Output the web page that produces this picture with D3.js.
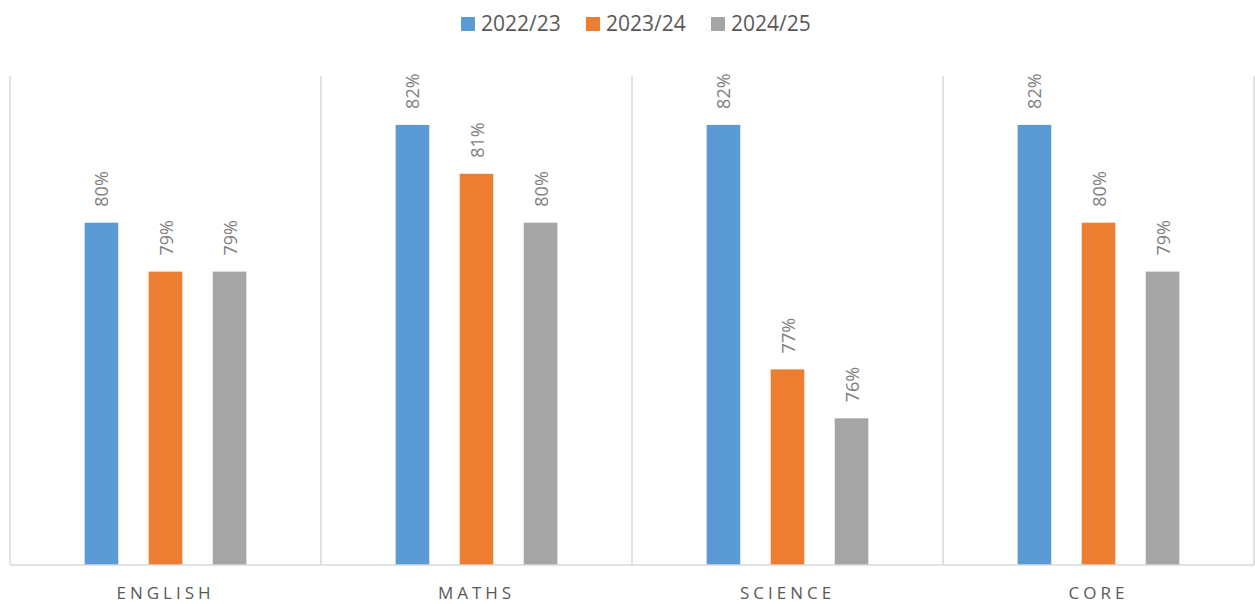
<!DOCTYPE html>
<html>
<head>
<meta charset="utf-8">
<script src="https://cdn.jsdelivr.net/npm/d3@7"></script>
<style>
  html, body { margin: 0; padding: 0; background: #fff; }
  svg { display: block; }
</style>
</head>
<body>
<svg id="chart" width="1255" height="604"></svg>
<script>
// Subject pass rates by academic year
const subjects = ["ENGLISH", "MATHS", "SCIENCE", "CORE"];
const years = ["2022/23", "2023/24", "2024/25"];
const rates2022 = [80, 82, 82, 82];
const rates2023 = [79, 81, 77, 80];
const rates2024 = [79, 80, 76, 79];
const seriesValues = [rates2022, rates2023, rates2024];
const colors = ["#5B9BD5", "#ED7D31", "#A5A5A5"];

const plot = { left: 10, right: 1254, top: 76, bottom: 565 };
const font = "'Open Sans', 'Liberation Sans', sans-serif";

const svg = d3.select("#chart");

const x0 = d3.scaleBand().domain(subjects).range([plot.left, plot.right]).padding(0);
const bw = x0.bandwidth();
const x1 = d3.scaleBand().domain(years).range([bw * 0.24, bw * 0.76]).paddingInner(0.475);
const y = d3.scaleLinear().domain([73, 83]).range([plot.bottom, plot.top]);

// vertical category separators
const edges = subjects.map(s => x0(s)).concat([plot.right]);
svg.append("g").selectAll("line").data(edges).join("line")
  .attr("x1", d => d).attr("x2", d => d)
  .attr("y1", plot.top).attr("y2", plot.bottom)
  .attr("stroke", "#d9d9d9").attr("stroke-width", 1.5);

// bars
const rows = subjects.map((s, i) => ({ subject: s, vals: years.map((yr, j) => ({ year: yr, j, v: seriesValues[j][i] })) }));
const groups = svg.append("g").selectAll("g").data(rows).join("g")
  .attr("transform", d => `translate(${x0(d.subject)},0)`);

groups.selectAll("rect").data(d => d.vals).join("rect")
  .attr("x", d => x1(d.year))
  .attr("width", x1.bandwidth())
  .attr("y", d => y(d.v))
  .attr("height", d => y(73) - y(d.v))
  .attr("fill", d => colors[d.j]);

// rotated value labels above bars
groups.selectAll("text").data(d => d.vals).join("text")
  .attr("transform", d => `translate(${x1(d.year) + x1.bandwidth() / 2},${y(d.v) - 16}) rotate(-90)`)
  .attr("text-anchor", "start")
  .attr("dominant-baseline", "central")
  .attr("font-family", font)
  .attr("font-size", 18)
  .attr("fill", "#7f7f7f")
  .text(d => d.v + "%");

// baseline
svg.append("line")
  .attr("x1", plot.left).attr("x2", plot.right)
  .attr("y1", y(73)).attr("y2", y(73))
  .attr("stroke", "#d9d9d9").attr("stroke-width", 1.5);

// category axis labels
const xAxis = d3.axisBottom(x0).tickSize(0).tickPadding(0);
const ax = svg.append("g").attr("transform", `translate(0,${plot.bottom})`).call(xAxis);
ax.select(".domain").remove();
ax.selectAll("text")
  .attr("y", 34)
  .attr("dy", 0)
  .attr("dx", 0)
  .attr("font-family", font)
  .attr("font-size", 17)
  .attr("letter-spacing", 4)
  .attr("fill", "#595959");

// legend
const legendX = [461, 586, 711];
const legend = svg.append("g").selectAll("g").data(years).join("g")
  .attr("transform", (d, i) => `translate(${legendX[i]},17)`);
legend.append("rect").attr("width", 14).attr("height", 14).attr("fill", (d, i) => colors[i]);
legend.append("text")
  .attr("x", 20).attr("y", 14)
  .attr("font-family", font)
  .attr("font-size", 21)
  .attr("fill", "#595959")
  .text(d => d);
</script>
</body>
</html>
